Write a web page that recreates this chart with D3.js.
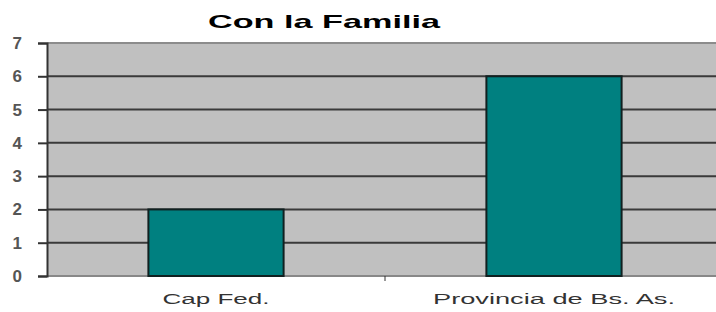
<!DOCTYPE html>
<meta charset="utf-8">
<style>
body { margin: 0; background: #fff; }
svg { display: block; }
.grid line { stroke: #3a3a3a; stroke-width: 2; }
</style>
<body>
<svg width="716" height="312"></svg>
<script src="https://cdnjs.cloudflare.com/ajax/libs/d3/7.8.5/d3.min.js"></script>
<script>
var categories = ["Cap Fed.", "Provincia de Bs. As."];
var values = [2, 6];
var yTicks = [0, 1, 2, 3, 4, 5, 6, 7];
var labelWidths = [107, 242];

var svg = d3.select("svg"),
    margin = {top: 43, right: -7, bottom: 36, left: 47},
    width = +svg.attr("width") - margin.left - margin.right,
    height = +svg.attr("height") - margin.top - margin.bottom;

var x = d3.scaleBand().domain(categories).range([0, width]).padding(0),
    y = d3.scaleLinear().domain([0, 7]).range([height, 0]);

var g = svg.append("g")
    .attr("transform", "translate(" + margin.left + "," + margin.top + ")");

// plot background
g.append("rect")
    .attr("x", 0).attr("y", 0)
    .attr("width", width).attr("height", height)
    .attr("fill", "#c0c0c0");

// gridlines
g.append("g").attr("class", "grid")
  .selectAll("line")
  .data(yTicks.filter(function(d) { return d > 0 && d < 7; }))
  .enter().append("line")
    .attr("x1", 0).attr("x2", width)
    .attr("y1", function(d) { return y(d); })
    .attr("y2", function(d) { return y(d); });

// top border and bottom axis line
g.append("line").attr("x1", 0).attr("x2", width)
    .attr("y1", y(7)).attr("y2", y(7))
    .attr("stroke", "#8c8c8c").attr("stroke-width", 2);
g.append("line").attr("x1", 0).attr("x2", width)
    .attr("y1", y(0)).attr("y2", y(0))
    .attr("stroke", "#888").attr("stroke-width", 2);

// category separator tick
g.append("line")
    .attr("x1", x(categories[1])).attr("x2", x(categories[1]))
    .attr("y1", y(0)).attr("y2", y(0) + 5)
    .attr("stroke", "#333").attr("stroke-width", 1);

// bars
var bw = x.bandwidth() * 0.4;
g.selectAll(".bar")
  .data(values)
  .enter().append("rect")
    .attr("class", "bar")
    .attr("x", function(d, i) { return x(categories[i]) + (x.bandwidth() - bw) / 2; })
    .attr("y", function(d) { return y(d); })
    .attr("width", bw)
    .attr("height", function(d) { return y(0) - y(d); })
    .attr("fill", "#008080")
    .attr("stroke", "#102020")
    .attr("stroke-width", 2);

// y axis
var yAxis = g.append("g")
    .call(d3.axisLeft(y).tickValues(yTicks).tickSize(9).tickPadding(16).tickFormat(d3.format("d")));
yAxis.attr("font-size", null).attr("font-family", null);
yAxis.select(".domain").attr("stroke", "#333").attr("stroke-width", 2);
yAxis.selectAll(".tick line").attr("stroke", "#333").attr("stroke-width", 2);
yAxis.selectAll("text")
    .attr("fill", "#555")
    .attr("font-size", 17)
    .attr("font-weight", "bold")
    .attr("font-family", "'Liberation Sans', Arial, sans-serif");

// x labels
g.selectAll(".xlabel")
  .data(categories)
  .enter().append("text")
    .attr("class", "xlabel")
    .attr("x", function(d) { return x(d) + x.bandwidth() / 2; })
    .attr("y", height + 28)
    .attr("text-anchor", "middle")
    .attr("fill", "#333")
    .style("font", "14px 'Liberation Sans', Arial, sans-serif")
    .attr("textLength", function(d, i) { return labelWidths[i]; })
    .attr("lengthAdjust", "spacingAndGlyphs")
    .text(function(d) { return d; });

// title
svg.append("text")
    .attr("x", 324)
    .attr("y", 28)
    .attr("text-anchor", "middle")
    .attr("fill", "#000")
    .style("font", "bold 19px 'Liberation Sans', Arial, sans-serif")
    .attr("textLength", 232)
    .attr("lengthAdjust", "spacingAndGlyphs")
    .text("Con la Familia");
</script>
</body>
